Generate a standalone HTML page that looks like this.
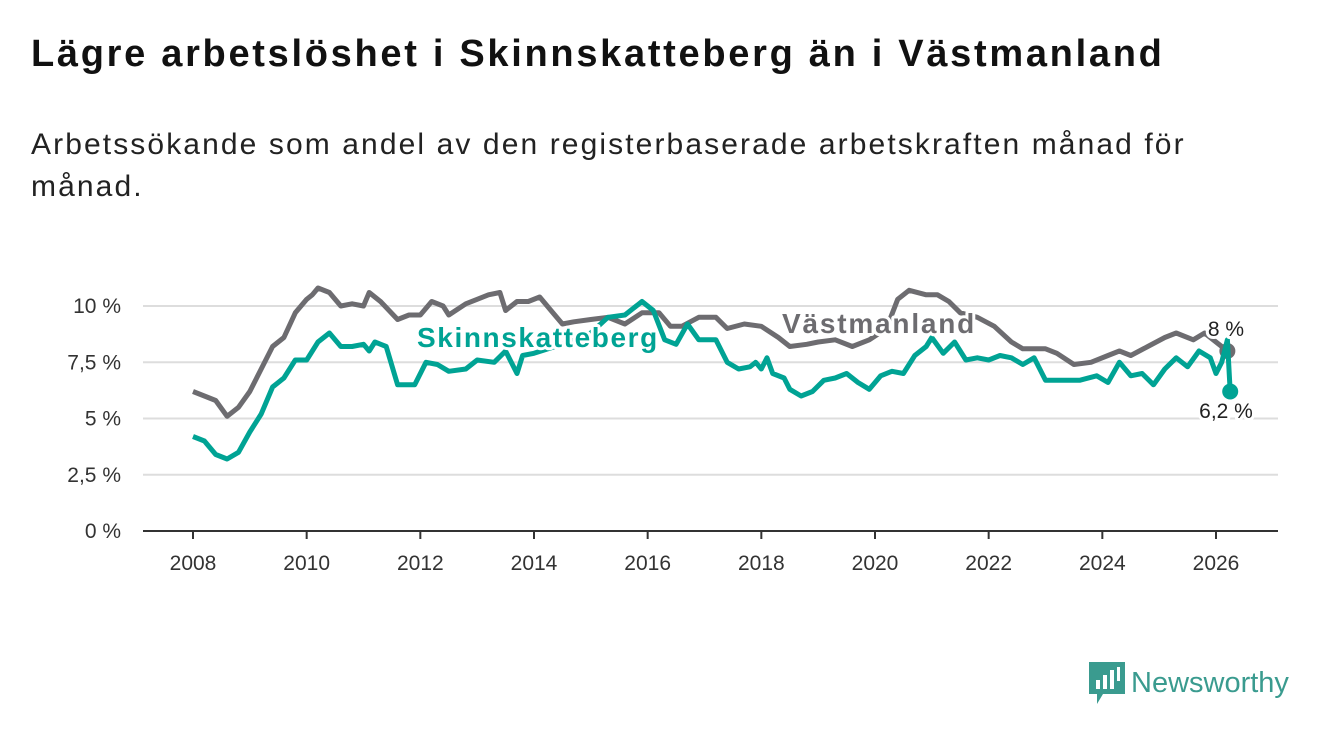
<!DOCTYPE html>
<html><head><meta charset="utf-8"><style>
body{margin:0;background:#fff;font-family:"Liberation Sans",sans-serif;}
#wrap{position:relative;width:1340px;height:734px;overflow:hidden;}
h1{position:absolute;left:31px;top:33px;margin:0;font-size:38px;letter-spacing:2.7px;font-weight:bold;color:#111;white-space:nowrap;}
p{position:absolute;left:31px;top:124px;margin:0;font-size:30px;letter-spacing:2.1px;line-height:42px;color:#222;width:1230px;}
</style></head><body><div id="wrap">
<h1>Lägre arbetslöshet i Skinnskatteberg än i Västmanland</h1>
<p>Arbetssökande som andel av den registerbaserade arbetskraften månad för<br>månad.</p>
<svg id="chart" width="1340" height="734" style="position:absolute;left:0;top:0"></svg>
<div style="position:absolute;left:1089px;top:662px;display:flex;align-items:center;">
<svg width="36" height="42"><path d="M0 0h36v32H14l-6 10v-10H0z" fill="#3a9b8f"/><rect x="7" y="18" width="4" height="9" fill="#fff"/><rect x="14" y="13" width="4" height="14" fill="#fff"/><rect x="21" y="8" width="4" height="19" fill="#fff"/><rect x="28" y="5" width="3" height="14" fill="#fff"/></svg>
<span style="font-size:29px;color:#3a9b8f;margin-left:6px;font-weight:500">Newsworthy</span></div>
</div>
<script>
const yTicks=[0,2.5,5,7.5,10];
const yTickLabels=["0 %","2,5 %","5 %","7,5 %","10 %"];
const xTicks=[2008,2010,2012,2014,2016,2018,2020,2022,2024,2026];
const vastT=[2008.0,2008.2,2008.4,2008.6,2008.8,2009.0,2009.2,2009.4,2009.6,2009.8,2010.0,2010.1,2010.2,2010.4,2010.6,2010.8,2011.0,2011.1,2011.3,2011.6,2011.8,2012.0,2012.2,2012.4,2012.5,2012.8,2013.0,2013.2,2013.4,2013.5,2013.7,2013.9,2014.1,2014.3,2014.5,2014.7,2015.0,2015.3,2015.6,2015.9,2016.2,2016.4,2016.6,2016.9,2017.2,2017.4,2017.7,2018.0,2018.3,2018.5,2018.8,2019.0,2019.3,2019.6,2019.9,2020.2,2020.4,2020.6,2020.9,2021.1,2021.3,2021.5,2021.8,2022.1,2022.4,2022.6,2023.0,2023.2,2023.5,2023.8,2024.1,2024.3,2024.5,2024.8,2025.1,2025.3,2025.6,2025.8,2026.0,2026.2];
const vastV=[6.2,6.0,5.8,5.1,5.5,6.2,7.2,8.2,8.6,9.7,10.3,10.5,10.8,10.6,10.0,10.1,10.0,10.6,10.2,9.4,9.6,9.6,10.2,10.0,9.6,10.1,10.3,10.5,10.6,9.8,10.2,10.2,10.4,9.8,9.2,9.3,9.4,9.5,9.2,9.7,9.7,9.1,9.1,9.5,9.5,9.0,9.2,9.1,8.6,8.2,8.3,8.4,8.5,8.2,8.5,9.0,10.3,10.7,10.5,10.5,10.2,9.7,9.5,9.1,8.4,8.1,8.1,7.9,7.4,7.5,7.8,8.0,7.8,8.2,8.6,8.8,8.5,8.8,8.4,8.0];
const skinT=[2008.0,2008.2,2008.4,2008.6,2008.8,2009.0,2009.2,2009.4,2009.6,2009.8,2010.0,2010.2,2010.4,2010.6,2010.8,2011.0,2011.1,2011.2,2011.4,2011.6,2011.9,2012.1,2012.3,2012.5,2012.8,2013.0,2013.3,2013.5,2013.7,2013.8,2014.0,2014.5,2015.0,2015.3,2015.6,2015.9,2016.1,2016.3,2016.5,2016.7,2016.9,2017.2,2017.4,2017.6,2017.8,2017.9,2018.0,2018.1,2018.2,2018.4,2018.5,2018.7,2018.9,2019.1,2019.3,2019.5,2019.7,2019.9,2020.1,2020.3,2020.5,2020.7,2020.9,2021.0,2021.2,2021.4,2021.6,2021.8,2022.0,2022.2,2022.4,2022.6,2022.8,2023.0,2023.3,2023.6,2023.9,2024.1,2024.3,2024.5,2024.7,2024.9,2025.1,2025.3,2025.5,2025.7,2025.9,2026.0,2026.1,2026.2,2026.25];
const skinV=[4.2,4.0,3.4,3.2,3.5,4.4,5.2,6.4,6.8,7.6,7.6,8.4,8.8,8.2,8.2,8.3,8.0,8.4,8.2,6.5,6.5,7.5,7.4,7.1,7.2,7.6,7.5,8.0,7.0,7.8,7.9,8.3,8.8,9.5,9.6,10.2,9.8,8.5,8.3,9.2,8.5,8.5,7.5,7.2,7.3,7.5,7.2,7.7,7.0,6.8,6.3,6.0,6.2,6.7,6.8,7.0,6.6,6.3,6.9,7.1,7.0,7.8,8.2,8.6,7.9,8.4,7.6,7.7,7.6,7.8,7.7,7.4,7.7,6.7,6.7,6.7,6.9,6.6,7.5,6.9,7.0,6.5,7.2,7.7,7.3,8.0,7.7,7.0,7.5,8.5,6.2];
const NS="http://www.w3.org/2000/svg";
const svg=document.getElementById('chart');
const X=t=>193+(t-2008)*(1216-193)/18;
const Y=v=>531-v*22.5;
function mk(tag,a){const e=document.createElementNS(NS,tag);for(const k in a)e.setAttribute(k,a[k]);svg.appendChild(e);return e;}
yTicks.forEach((v,i)=>{
 const l=mk('line',{x1:143,x2:1278,y1:Y(v),y2:Y(v),stroke:v===0?'#333':'#ddd','stroke-width':2});
 
 
 const t=mk('text',{x:121,y:Y(v)+7,'text-anchor':'end','font-size':21,fill:'#333','font-family':'Liberation Sans, sans-serif'});
 t.textContent=yTickLabels[i];
 
 
});
xTicks.forEach(y=>{
 const l=mk('line',{x1:X(y),x2:X(y),y1:531,y2:539,stroke:'#333','stroke-width':2});
 
 
 const t=mk('text',{x:X(y),y:570,'text-anchor':'middle','font-size':21,fill:'#333','font-family':'Liberation Sans, sans-serif'});
 t.textContent=y;
 
 
});
function line(T,V,c,name){
 const d=T.map((t,i)=>(i?'L':'M')+X(t).toFixed(1)+' '+Y(V[i]).toFixed(1)).join(' ');
 const p=mk('path',{d:d,fill:'none',stroke:c,'stroke-width':5,'stroke-linejoin':'round'});
 
 
 const n=T.length-1;
 const dot=mk('circle',{cx:X(T[n]),cy:Y(V[n]),r:8,fill:c});
 
 
}
line(vastT,vastV,'#6d6c70','vastmanland-line');
line(skinT,skinV,'#00a394','skinnskatteberg-line');
function lab(x,y,s,c,size,w,name,anchor,ls){
 const t=mk('text',{x:x,y:y,'font-size':size,'font-weight':w,fill:c,stroke:'#fff','stroke-width':6,'paint-order':'stroke','stroke-linejoin':'round','text-anchor':anchor||'start','letter-spacing':ls||0,'font-family':'Liberation Sans, sans-serif'});
 t.textContent=s;
 
 
}
lab(417,347,'Skinnskatteberg','#00a394',28,'bold','skinnskatteberg-label','start',1.6);
lab(782,333,'Västmanland','#6d6c70',28,'bold','vastmanland-label','start',1.8);
lab(1226,336,'8 %','#222',21,'normal','vastmanland-end-value','middle');
lab(1226,418,'6,2 %','#222',21,'normal','skinnskatteberg-end-value','middle');
</script></body></html>
